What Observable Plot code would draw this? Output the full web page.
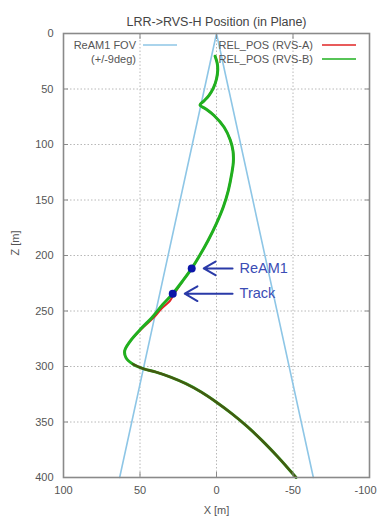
<!DOCTYPE html>
<html>
<head>
<meta charset="utf-8">
<script src="https://cdn.jsdelivr.net/npm/d3@7"></script>
<script src="https://cdn.jsdelivr.net/npm/@observablehq/plot@0.6"></script>
<style>
  html, body { margin: 0; padding: 0; background: #fff; }
  #chart svg { display: block; }
</style>
</head>
<body>
<div id="chart"></div>
<script>
// ---- data ----
const title = "LRR->RVS-H Position (in Plane)";
const xTicks = [100, 50, 0, -50, -100];
const zTicks = [0, 50, 100, 150, 200, 250, 300, 350, 400];

// ReAM1 field of view (+/-9 deg) boundary
const fovX = [63.3, 0, -63.3];
const fovZ = [400, 0, 400];

// REL_POS (RVS-B), green
const rvsBX = [0.9, -0.5, -0.8, 0.0, 2.0, 5.0, 8.0, 10.8, 7.5, 1.6, -5.0, -9.0, -10.8, -11.0, -10.0,
  -7.8, -4.5, 0.0, 5.5, 11.0, 16.2, 22.0, 28.6, 35.0, 42.3, 49.6, 56.6, 60.0, 59.2, 54.5,
  47.5, 40.0, 30.0, 20.0, 10.0, 0.0, -10.0, -20.0, -30.0, -40.0, -46.0, -52.0];
const rvsBZ = [20.5, 27, 33, 41, 49, 56, 60.5, 64.5, 67.5, 73.9, 84.5, 96, 106, 116, 126,
  141, 156, 171, 186.5, 200, 211.6, 222.7, 234.4, 244, 256, 266.3, 277.5, 285.8, 292, 298,
  302.2, 304.8, 309.6, 315.5, 323, 332.2, 342.5, 354, 367, 381.3, 390.5, 400];

// REL_POS (RVS-A), red (mostly under RVS-B)
const rvsAX = [0.9, -0.5, -0.8, 0.0, 2.0, 5.0, 8.0, 10.8, 7.5, 1.6, -5.0, -9.0, -10.8, -11.0, -10.0,
  -7.8, -4.5, 0.0, 5.5, 11.0, 16.2, 22.0, 28.0, 30.5, 36.0, 41.0, 48.5, 56.6, 60.0, 59.2, 54.5,
  47.5, 40.0, 30.0, 20.0, 10.0, 0.0, -10.0, -20.0, -30.0, -40.0, -46.0, -52.0];
const rvsAZ = [20.5, 27, 33, 41, 49, 56, 60.5, 64.5, 67.5, 73.9, 84.5, 96, 106, 116, 126,
  141, 156, 171, 186.5, 200, 211.6, 222.7, 235.5, 241, 248, 256, 265.5, 277.5, 285.8, 292, 298,
  302.2, 304.8, 309.6, 315.5, 323, 332.2, 342.5, 354, 367, 381.3, 390.5, 400];

// annotated events
const annLabels = ["ReAM1", "Track"];
const annX = [16.2, 28.6];
const annZ = [211.6, 234.4];
const arrowTailX = -10.5;

// legend
const legendLabels = ["ReAM1 FOV", "REL_POS (RVS-A)", "REL_POS (RVS-B)"];
const fovNote = "(+/-9deg)";

// ---- build tables ----
const fov = fovX.map((x, i) => ({x, z: fovZ[i]}));
const rvsB = rvsBX.map((x, i) => ({x, z: rvsBZ[i]}));
const rvsA = rvsAX.map((x, i) => ({x, z: rvsAZ[i]}));
const rvsALower = rvsA.filter(d => d.z >= 298);
const ann = annLabels.map((label, i) => ({label, x: annX[i], z: annZ[i]}));

const colFov = "#8ec6e6";
const colA = "#e02424";
const colB = "#1fb01f";
const axisCol = "#8a8a8a";
const textCol = "#555";

function legend(index, scales, values, dims) {
  const g = d3.create("svg:g")
    .attr("font-family", "Liberation Sans, Arial, sans-serif")
    .attr("font-size", 11)
    .attr("fill", textCol);
  const rows = [
    {text: legendLabels[0], tx: 136, y: 45, x1: 143, x2: 177, color: colFov},
    {text: fovNote, tx: 136, y: 59, x1: null},
    {text: legendLabels[1], tx: 313, y: 45, x1: 322, x2: 356, color: colA},
    {text: legendLabels[2], tx: 313, y: 59, x1: 322, x2: 356, color: colB}
  ];
  for (const r of rows) {
    g.append("text").attr("x", r.tx).attr("y", r.y).attr("dy", "0.35em")
      .attr("text-anchor", "end").text(r.text);
    if (r.x1 != null) {
      g.append("line").attr("x1", r.x1).attr("x2", r.x2).attr("y1", r.y).attr("y2", r.y)
        .attr("stroke", r.color).attr("stroke-width", 1.6);
    }
  }
  return g.node();
}

const plot = Plot.plot({
  width: 379,
  height: 520,
  marginTop: 33,
  marginBottom: 43,
  marginLeft: 63,
  marginRight: 10,
  style: {fontFamily: "Liberation Sans, Arial, sans-serif", color: textCol, background: "#fff"},
  x: {domain: [100, -100]},
  y: {domain: [0, 400], reverse: true},
  marks: [
    Plot.gridX([50, 0, -50], {stroke: "#b8b8b8", strokeOpacity: 1, strokeDasharray: "1.5,2"}),
    Plot.gridY([50, 100, 150, 200, 250, 300, 350], {stroke: "#b8b8b8", strokeOpacity: 1, strokeDasharray: "1.5,2"}),
    Plot.line(fov, {x: "x", y: "z", stroke: colFov, strokeWidth: 1.6}),
    Plot.line(rvsA, {x: "x", y: "z", stroke: colA, strokeWidth: 2, curve: "catmull-rom"}),
    Plot.line(rvsB, {x: "x", y: "z", stroke: colB, strokeWidth: 3, curve: "catmull-rom"}),
    Plot.line(rvsALower, {x: "x", y: "z", stroke: "#5e2008", strokeOpacity: 0.6, strokeWidth: 2.4, curve: "catmull-rom"}),
    Plot.arrow(ann, {x1: d => arrowTailX, y1: "z", x2: "x", y2: "z", insetEnd: 12,
      stroke: "#2a3aa8", strokeWidth: 2, headLength: 11, headAngle: 60}),
    Plot.dot(ann, {x: "x", y: "z", r: 4, fill: "#0b16a8", stroke: "none"}),
    Plot.text(ann, {x: d => arrowTailX, y: "z", text: "label", textAnchor: "start", dx: 7,
      fontSize: 14.5, fill: "#3b4db5"}),
    Plot.frame({stroke: axisCol, strokeWidth: 1.6}),
    // inward tick marks on all four sides
    Plot.axisX(xTicks, {anchor: "bottom", tickSize: 5, dy: -5, fill: null, label: null, stroke: axisCol}),
    Plot.axisX(xTicks, {anchor: "top", tickSize: 5, dy: 5, fill: null, label: null, stroke: axisCol}),
    Plot.axisY(zTicks, {anchor: "left", tickSize: 5, dx: 5, fill: null, label: null, stroke: axisCol}),
    Plot.axisY(zTicks, {anchor: "right", tickSize: 5, dx: -5, fill: null, label: null, stroke: axisCol}),
    // tick labels (the last one nudged in so it stays on the page)
    Plot.axisX(xTicks.slice(0, -1), {anchor: "bottom", tickSize: 0, tickPadding: 9, label: null,
      tickFormat: d => String(d), fontSize: 11, fill: textCol}),
    Plot.axisX(xTicks.slice(-1), {anchor: "bottom", tickSize: 0, tickPadding: 9, label: null, dx: -4,
      tickFormat: d => String(d), fontSize: 11, fill: textCol}),
    Plot.axisY(zTicks, {anchor: "left", tickSize: 0, tickPadding: 10, label: null,
      tickFormat: d => String(d), fontSize: 11, fill: textCol}),
    // axis titles and chart title
    Plot.text(["X [m]"], {frameAnchor: "bottom", dy: 36, fontSize: 11, fill: textCol}),
    Plot.text(["Z [m]"], {frameAnchor: "left", dx: -48, rotate: -90, fontSize: 11, fill: textCol}),
    Plot.text([title], {frameAnchor: "top", dy: -16, fontSize: 12.5, fill: "#444"}),
    legend
  ]
});
document.getElementById("chart").appendChild(plot);
</script>
</body>
</html>
